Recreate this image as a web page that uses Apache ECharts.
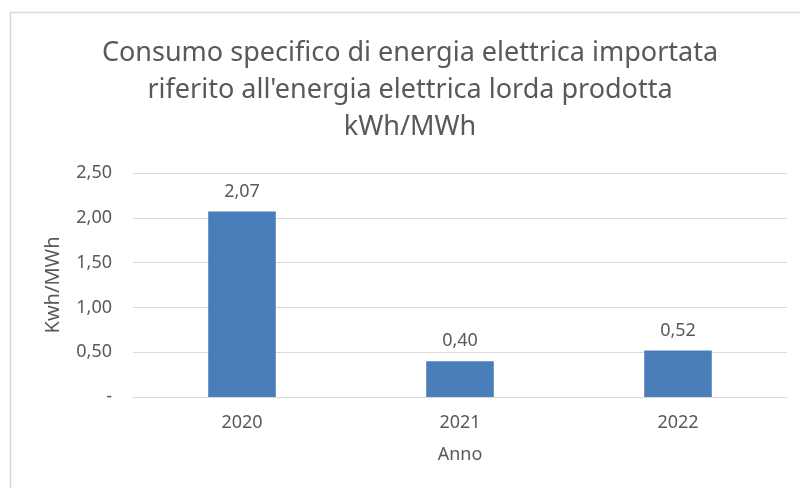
<!DOCTYPE html>
<html>
<head>
<meta charset="utf-8">
<script src="https://cdn.jsdelivr.net/npm/echarts@6/dist/echarts.min.js"></script>
<style>
  html, body { margin: 0; padding: 0; background: #fff; }
  #main { width: 800px; height: 488px; }
</style>
</head>
<body>
<div id="main"></div>
<script>
  var anni = ['2020', '2021', '2022'];
  var consumo = [2.07, 0.40, 0.52];
  var titolo = "Consumo specifico di energia elettrica importata\nriferito all'energia elettrica lorda prodotta\nkWh/MWh";

  var grigio = '#595959';
  var font = 'Noto Sans';

  function virgola(v) {
    return v.toFixed(2).replace('.', ',');
  }

  var myChart = echarts.init(document.getElementById('main'));
  var option = {
    backgroundColor: '#fff',
    animation: false,
    // bordo del riquadro (solo sopra e a sinistra sono visibili)
    graphic: [{
      type: 'polyline',
      shape: { points: [[10.5, 488], [10.5, 12.5], [800, 12.5]] },
      style: { fill: 'none', stroke: '#d9d9d9', lineWidth: 1.5 },
      silent: true
    }],
    title: {
      text: titolo,
      left: 410,
      top: 35,
      padding: 0,
      textAlign: 'center',
      textStyle: {
        color: grigio,
        fontFamily: font,
        fontWeight: 'normal',
        fontSize: 27,
        lineHeight: 37
      }
    },
    grid: {
      left: 133,
      right: 13,
      top: 173,
      bottom: 91,
      outerBoundsMode: 'none'
    },
    xAxis: {
      type: 'category',
      data: anni,
      name: 'Anno',
      nameLocation: 'middle',
      nameGap: 49,
      nameTextStyle: { color: grigio, fontFamily: font, fontSize: 18 },
      axisLine: { lineStyle: { color: '#d9d9d9' } },
      axisTick: { show: false },
      axisLabel: { color: grigio, fontFamily: font, fontSize: 18, margin: 17 }
    },
    yAxis: {
      type: 'value',
      min: 0,
      max: 2.5,
      interval: 0.5,
      name: 'Kwh/MWh',
      nameLocation: 'middle',
      nameGap: 70,
      nameTextStyle: { color: grigio, fontFamily: font, fontSize: 20 },
      axisLine: { show: false },
      axisTick: { show: false },
      splitLine: { lineStyle: { color: '#d9d9d9' } },
      axisLabel: {
        color: grigio,
        fontFamily: font,
        fontSize: 18,
        margin: 21,
        formatter: function (v) { return v === 0 ? '-' : virgola(v); }
      }
    },
    series: [{
      type: 'bar',
      data: consumo,
      barWidth: '31%',
      itemStyle: { color: '#4a7ebb' },
      label: {
        show: true,
        position: 'top',
        distance: 11,
        color: grigio,
        fontFamily: font,
        fontSize: 18,
        formatter: function (p) { return virgola(p.value); }
      }
    }]
  };
  myChart.setOption(option);
</script>
</body>
</html>
